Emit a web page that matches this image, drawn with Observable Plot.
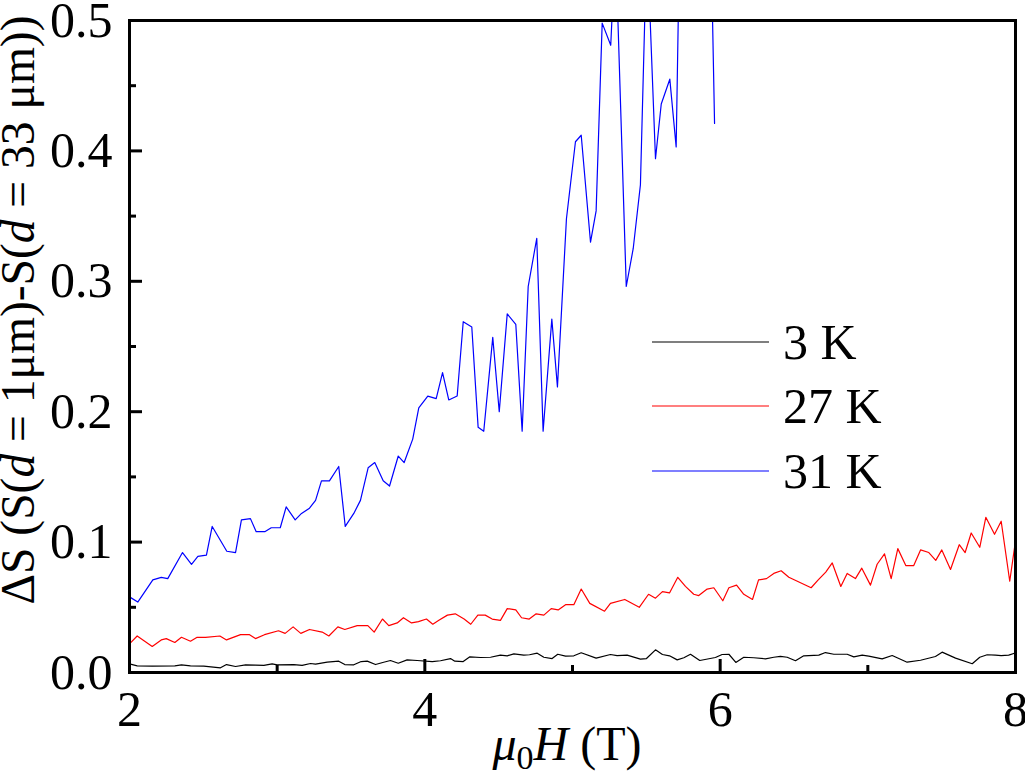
<!DOCTYPE html>
<html><head><meta charset="utf-8">
<script src="https://cdn.jsdelivr.net/npm/d3@7"></script>
<script src="https://cdn.jsdelivr.net/npm/@observablehq/plot@0.6"></script>
<style>body{margin:0;background:#fff}</style>
</head><body><div id="chart"></div>
<script>
// 3 K
const h3 = [2.000,2.052,2.154,2.307,2.352,2.413,2.503,2.616,2.657,2.718,2.786,2.853,2.910,2.966,3.000,3.113,3.169,3.226,3.260,3.339,3.417,3.458,3.519,3.569,3.610,3.666,3.715,3.767,3.820,3.880,3.948,4.050,4.106,4.174,4.203,4.260,4.305,4.377,4.445,4.512,4.558,4.603,4.670,4.709,4.761,4.806,4.862,4.900,4.953,5.009,5.059,5.160,5.257,5.302,5.370,5.460,5.501,5.562,5.609,5.657,5.709,5.754,5.799,5.862,5.968,6.013,6.059,6.106,6.160,6.228,6.307,6.363,6.408,6.454,6.510,6.566,6.668,6.713,6.770,6.860,6.905,6.962,7.006,7.097,7.165,7.266,7.357,7.458,7.503,7.594,7.707,7.758,7.808,7.864,7.903,7.954,7.988];
const s3 = [0.0066,0.0051,0.0049,0.0051,0.0059,0.0051,0.0049,0.0036,0.0061,0.0046,0.0059,0.0056,0.0054,0.0066,0.0059,0.0061,0.0054,0.0069,0.0064,0.0079,0.0087,0.0061,0.0059,0.0084,0.0087,0.0061,0.0077,0.0092,0.0071,0.0097,0.0092,0.0084,0.0090,0.0107,0.0087,0.0084,0.0120,0.0115,0.0117,0.0133,0.0128,0.0143,0.0133,0.0136,0.0148,0.0117,0.0107,0.0140,0.0125,0.0128,0.0151,0.0110,0.0138,0.0130,0.0133,0.0102,0.0107,0.0174,0.0138,0.0128,0.0097,0.0113,0.0140,0.0092,0.0115,0.0138,0.0140,0.0077,0.0117,0.0113,0.0105,0.0117,0.0123,0.0117,0.0090,0.0128,0.0133,0.0153,0.0140,0.0140,0.0120,0.0133,0.0125,0.0105,0.0130,0.0079,0.0094,0.0123,0.0156,0.0110,0.0067,0.0117,0.0136,0.0133,0.0130,0.0133,0.0146];
// 27 K
const h27 = [2.000,2.052,2.154,2.215,2.249,2.307,2.352,2.413,2.458,2.515,2.612,2.657,2.752,2.813,2.853,2.914,3.009,3.054,3.108,3.160,3.219,3.305,3.350,3.411,3.458,3.542,3.614,3.657,3.713,3.756,3.813,3.855,3.910,3.957,4.011,4.054,4.095,4.153,4.206,4.266,4.311,4.359,4.409,4.456,4.512,4.558,4.616,4.655,4.707,4.754,4.806,4.856,4.903,4.953,5.009,5.059,5.117,5.217,5.257,5.354,5.452,5.515,5.562,5.609,5.657,5.713,5.765,5.821,5.855,5.912,5.957,6.018,6.059,6.111,6.160,6.219,6.260,6.314,6.363,6.413,6.465,6.616,6.664,6.715,6.759,6.817,6.860,6.916,6.959,7.018,7.063,7.113,7.158,7.203,7.257,7.311,7.357,7.413,7.460,7.501,7.560,7.619,7.659,7.700,7.758,7.799,7.858,7.903,7.961,8.000];
const s27 = [0.022,0.028,0.020,0.025,0.026,0.023,0.027,0.024,0.027,0.027,0.028,0.025,0.029,0.029,0.026,0.029,0.032,0.030,0.035,0.030,0.033,0.031,0.028,0.035,0.033,0.036,0.036,0.031,0.041,0.036,0.038,0.042,0.038,0.039,0.041,0.037,0.040,0.044,0.045,0.041,0.037,0.044,0.044,0.041,0.040,0.049,0.048,0.042,0.041,0.045,0.044,0.049,0.048,0.052,0.052,0.064,0.053,0.047,0.053,0.056,0.050,0.060,0.057,0.062,0.061,0.073,0.066,0.060,0.059,0.064,0.065,0.055,0.065,0.067,0.060,0.056,0.071,0.072,0.076,0.078,0.073,0.065,0.071,0.077,0.084,0.066,0.076,0.072,0.080,0.067,0.083,0.091,0.072,0.095,0.082,0.082,0.094,0.092,0.086,0.094,0.079,0.098,0.092,0.107,0.096,0.119,0.106,0.116,0.070,0.101];
// 31 K
const h31 = [2.000,2.056,2.158,2.215,2.259,2.359,2.420,2.463,2.521,2.560,2.659,2.718,2.758,2.819,2.858,2.916,2.960,3.021,3.061,3.122,3.165,3.219,3.260,3.300,3.354,3.417,3.461,3.519,3.564,3.616,3.661,3.718,3.761,3.820,3.860,3.918,3.959,4.020,4.077,4.120,4.162,4.219,4.260,4.318,4.361,4.399,4.460,4.504,4.558,4.616,4.659,4.700,4.758,4.801,4.860,4.898,4.959,5.020,5.059,5.122,5.160,5.201,5.259,5.291,5.364,5.411,5.460,5.504,5.562,5.601,5.659,5.702,5.752,5.799,5.846,5.894,5.928,5.962];
const s31 = [0.058,0.054,0.071,0.073,0.072,0.092,0.083,0.089,0.090,0.112,0.093,0.092,0.117,0.118,0.108,0.108,0.111,0.111,0.127,0.117,0.122,0.126,0.132,0.147,0.147,0.158,0.112,0.122,0.132,0.157,0.161,0.147,0.143,0.166,0.161,0.179,0.203,0.212,0.210,0.230,0.209,0.212,0.269,0.265,0.188,0.185,0.257,0.200,0.275,0.267,0.185,0.296,0.333,0.185,0.271,0.219,0.348,0.407,0.412,0.330,0.354,0.498,0.481,0.560,0.296,0.325,0.374,0.565,0.394,0.436,0.455,0.403,0.750,0.680,0.720,0.660,0.620,0.421];

const seriesNames = ["3 K", "27 K", "31 K"];
const seriesColors = ["#000000", "#ff0000", "#0000ff"];
const xTicks = [2, 4, 6, 8];
const xMinor = [3, 5, 7];
const yTicks = [0, 0.1, 0.2, 0.3, 0.4, 0.5];
const yMinor = [0.05, 0.15, 0.25, 0.35, 0.45];

const toRows = (hs, ss) => hs.map((h, i) => ({x: h, y: ss[i]}));
const series = [toRows(h3, s3), toRows(h27, s27), toRows(h31, s31)];

const FONT = "'Liberation Serif', 'Times New Roman', serif";

const plot = Plot.plot({
  width: 1025,
  height: 774,
  marginLeft: 129,
  marginRight: 10,
  marginTop: 20,
  marginBottom: 102,
  style: {fontFamily: FONT, background: "#fff", color: "#000"},
  x: {domain: [2, 8]},
  y: {domain: [0, 0.5]},
  marks: [
    ...series.map((rows, i) => Plot.line(rows, {x: "x", y: "y", stroke: seriesColors[i], strokeWidth: 1.2, clip: true})),
    Plot.frame({stroke: "#000", strokeWidth: 3}),
    Plot.axisY(yTicks, {anchor: "left", tickSize: 13, dx: 13, text: null, label: null, strokeWidth: 3}),
    Plot.axisY(yMinor, {anchor: "left", tickSize: 7, dx: 7, text: null, label: null, strokeWidth: 3}),
    Plot.axisX(xTicks, {anchor: "bottom", tickSize: 13, dy: -13, text: null, label: null, strokeWidth: 3}),
    Plot.axisX(xMinor, {anchor: "bottom", tickSize: 7, dy: -7, text: null, label: null, strokeWidth: 3}),
    Plot.axisY(yTicks, {anchor: "left", tickSize: 0, tickPadding: 17, tickFormat: d => d.toFixed(1), fontSize: 50, label: null}),
    Plot.axisX(xTicks, {anchor: "bottom", tickSize: 0, tickPadding: 18, tickFormat: d => String(d), fontSize: 50, label: null})
  ]
});

document.getElementById("chart").appendChild(plot);

const svg = d3.select(plot);
// x-axis title
const xt = svg.append("text")
  .attr("x", 567).attr("y", 760)
  .attr("text-anchor", "middle")
  .attr("font-family", FONT).attr("font-size", 48).attr("fill", "#000");
xt.append("tspan").attr("font-style", "italic").text("μ");
xt.append("tspan").attr("font-size", 34).attr("dy", 9).text("0");
xt.append("tspan").attr("font-style", "italic").attr("dy", -9).text("H");
xt.append("tspan").text(" (T)");

// y-axis title
const yt = svg.append("text")
  .attr("transform", "translate(34,310) rotate(-90)")
  .attr("text-anchor", "middle")
  .attr("font-family", FONT).attr("font-size", 47.5).attr("fill", "#000");
yt.append("tspan").text("ΔS (S(");
yt.append("tspan").attr("font-style", "italic").text("d");
yt.append("tspan").text(" = 1μm)-S(");
yt.append("tspan").attr("font-style", "italic").text("d");
yt.append("tspan").text(" = 33 μm))");

// legend
const legY = [342, 406, 471];
seriesNames.forEach((name, i) => {
  svg.append("line").attr("x1", 652).attr("x2", 769).attr("y1", legY[i]).attr("y2", legY[i])
    .attr("stroke", seriesColors[i]).attr("stroke-width", 1.2);
  svg.append("text").attr("x", 783).attr("y", legY[i] + 17)
    .attr("text-anchor", "start")
    .attr("font-family", FONT).attr("font-size", 50).attr("fill", "#000").text(name);
});
</script>
</body></html>
